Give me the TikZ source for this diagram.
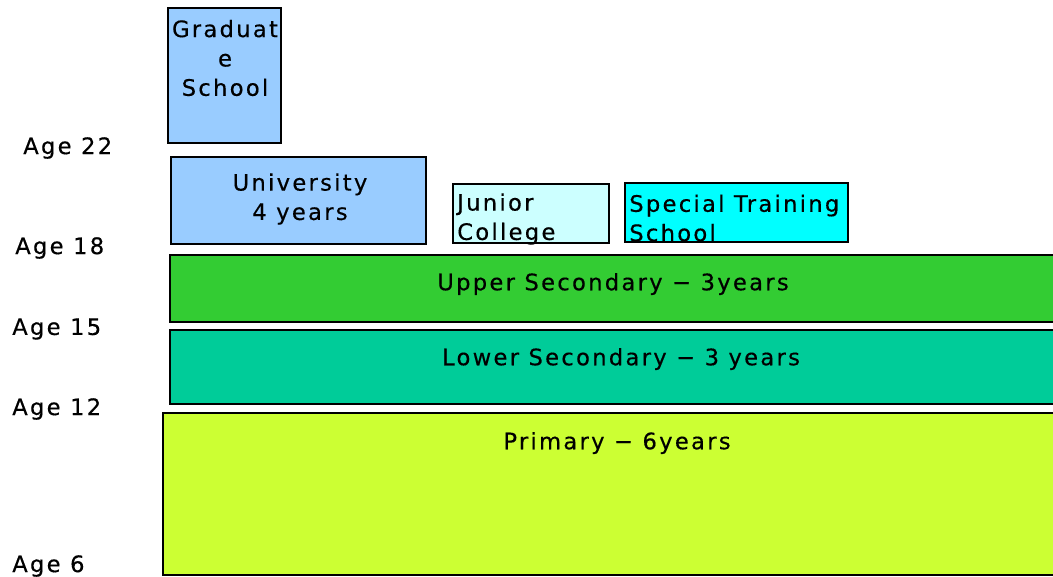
\documentclass[tikz,border=0pt]{standalone}
\usepackage{fontspec}
\setmainfont{DejaVu Sans}[LetterSpace=10,FakeBold=0.4]
\definecolor{gradblue}{HTML}{99CCFF}
\definecolor{juniorcyan}{HTML}{CCFFFF}
\definecolor{specialcyan}{HTML}{00FFFF}
\definecolor{uppergreen}{HTML}{33CC33}
\definecolor{lowergreen}{HTML}{00CC99}
\definecolor{primyellow}{HTML}{CCFF33}

\begin{document}
\begin{tikzpicture}[x=0.75pt,y=-0.75pt,
  stage/.style={draw=black,line width=1.5pt},
  txt/.style={font=\fontsize{17}{22}\selectfont,inner sep=0pt,align=center}]
  \useasboundingbox (0,0) rectangle (1053,576);
  \clip (0,0) rectangle (1053,576);
  \draw[stage,fill=gradblue] (168,8) rectangle (281,143);
  \node[txt] (grad) at (225,58) {Graduat\\e\\School};
  \draw[stage,fill=gradblue] (171,157) rectangle (426,244);
  \node[txt] (univ) at (300,199) {University\\4 years};
  \draw[stage,fill=juniorcyan] (453,184) rectangle (609,243);
  \node[txt,align=left,anchor=west] (junior) at (457,219) {Junior\\College};
  \draw[stage,fill=specialcyan] (625,183) rectangle (848,242);
  \node[txt,align=left,anchor=west] (special) at (629,218) {Special Training\\School};
  \draw[stage,fill=uppergreen] (170,255) rectangle (1065,322);
  \node[txt] (upper) at (613,284) {Upper Secondary − 3years};
  \draw[stage,fill=lowergreen] (170,330) rectangle (1065,404);
  \node[txt] (lower) at (621,359) {Lower Secondary − 3 years};
  \draw[stage,fill=primyellow] (163,413) rectangle (1065,575);
  \node[txt] (primary) at (617,443) {Primary − 6years};
  % ages
  \node[txt,anchor=west] (age22) at (23,148) {Age 22};
  \node[txt,anchor=west] (age18) at (15,248) {Age 18};
  \node[txt,anchor=west] (age15) at (12,329) {Age 15};
  \node[txt,anchor=west] (age12) at (12,409) {Age 12};
  \node[txt,anchor=west] (age6) at (12,566) {Age 6};
\end{tikzpicture}
\end{document}
